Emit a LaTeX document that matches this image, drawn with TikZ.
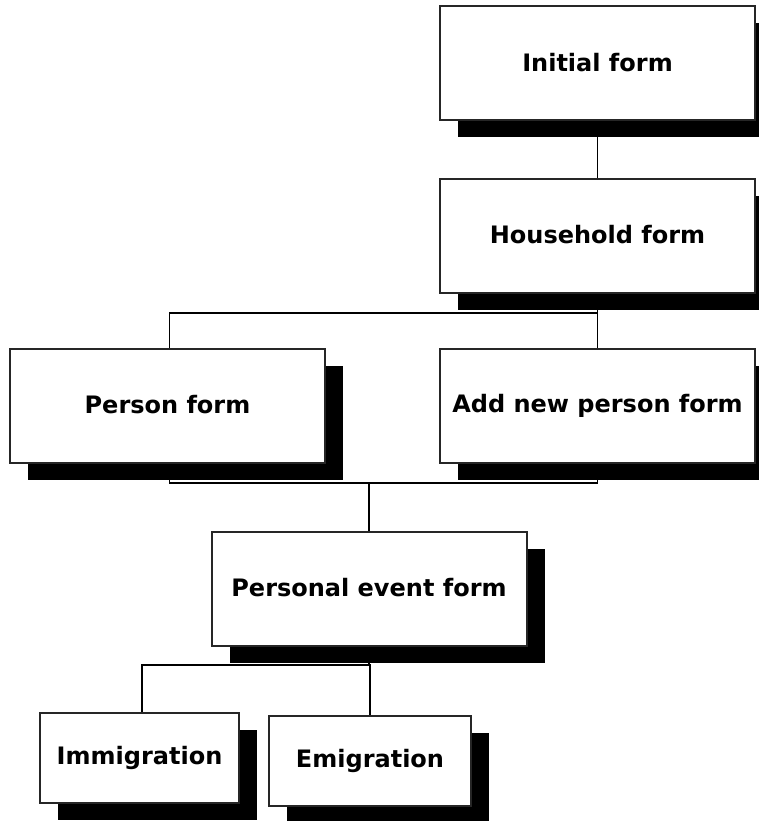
\documentclass[tikz,border=0pt]{standalone}
\usepackage{fontspec}
\setmainfont{DejaVu Sans}
\usetikzlibrary{shadows,backgrounds}
\newcommand{\formlabel}[1]{\raisebox{3pt}{#1}}
\begin{document}
\begin{tikzpicture}[x=1pt,y=-1pt,
  formbox/.style={draw=black!85, line width=2pt, fill=white,
    inner sep=0pt, outer sep=0pt,
    font=\fontsize{24}{28}\selectfont\bfseries,
    drop shadow={shadow xshift=18pt, shadow yshift=-17pt, fill=black, opacity=1}},
  bigbox/.style={formbox, minimum width=315pt, minimum height=114pt},
  smallbox/.style={formbox, minimum height=90pt},
  link/.style={draw=black, line width=1.5pt}]
\useasboundingbox (0,0) rectangle (758,821);

% forms
\node[bigbox] (init)   at (597.5,63.5)  {\formlabel{Initial form}};
\node[bigbox] (house)  at (597.5,236)   {\formlabel{Household form}};
\node[bigbox] (person) at (167.5,406)   {\formlabel{Person form}};
\node[bigbox] (addnew) at (597.5,406)   {\formlabel{Add new person form}};
\node[bigbox] (event)  at (369,588.5)   {\formlabel{Personal event form}};
\node[smallbox, minimum width=199pt] (immig) at (139.5,757.5) {\formlabel{Immigration}};
\node[smallbox, minimum width=202pt] (emig)  at (370,760.5)   {\formlabel{Emigration}};

% bus lines
\coordinate (rowA) at (0,313);
\coordinate (rowB) at (0,483);
\coordinate (rowC) at (0,665);

\begin{scope}[on background layer]
  \draw[link] (init.south) -- (house.north);
  \draw[link] (house.south) -- (addnew.north);
  \draw[link] (house.south |- rowA) -| ([xshift=2pt]person.north);
  \draw[link] (addnew.south) -- (addnew.south |- rowB) -| ([xshift=2pt]person.south);
  \draw[link] (addnew.south |- rowB) -| (event.north);
  \draw[link] (event.south) -- (event.south |- rowC) -| ([xshift=2.5pt]immig.north);
  \draw[link] (event.south |- rowC) -| (emig.north);
\end{scope}
\end{tikzpicture}
\end{document}
